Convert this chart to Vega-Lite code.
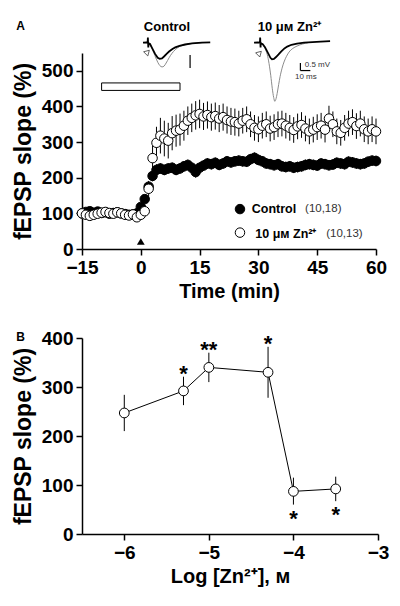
{
  "$schema": "https://vega.github.io/schema/vega-lite/v6.json",
  "padding": {"top": 19, "left": 12, "right": 5, "bottom": 5},
  "config": {
    "view": {"stroke": null},
    "font": "Liberation Sans",
    "axis": {
      "grid": false,
      "domainColor": "black", "domainWidth": 1.5,
      "tickColor": "black", "tickWidth": 1.5, "tickSize": 6,
      "labelFont": "Liberation Sans", "labelFontWeight": "bold", "labelFontSize": 19, "labelColor": "black", "labelPadding": 3,
      "labelFlush": false, "labelOverlap": false,
      "titleFont": "Liberation Sans", "titleFontWeight": "bold", "titleFontSize": 20, "titleColor": "black"
    },
    "axisY": {"titleFontSize": 23},
    "title": {"font": "Liberation Sans", "fontWeight": "bold", "fontSize": 12, "color": "black", "anchor": "start", "frame": "bounds", "offset": 0}
  },
  "datasets": {
    "tc": [
      {"t":-15,"s":"Control","v":100,"e":8},{"t":-14,"s":"Control","v":104,"e":8},{"t":-13,"s":"Control","v":106,"e":8},{"t":-12,"s":"Control","v":102,"e":8},{"t":-11,"s":"Control","v":105,"e":9},{"t":-10,"s":"Control","v":101,"e":8},{"t":-9,"s":"Control","v":103,"e":8},{"t":-8,"s":"Control","v":99,"e":8},{"t":-7,"s":"Control","v":101,"e":8},{"t":-6,"s":"Control","v":103,"e":8},{"t":-5,"s":"Control","v":100,"e":8},{"t":-4,"s":"Control","v":98,"e":8},{"t":-3,"s":"Control","v":96,"e":8},{"t":-2,"s":"Control","v":97,"e":8},{"t":-1,"s":"Control","v":100,"e":9},
      {"t":0,"s":"Control","v":118,"e":10},{"t":1,"s":"Control","v":140,"e":12},{"t":2,"s":"Control","v":175,"e":14},{"t":3,"s":"Control","v":205,"e":15},{"t":4,"s":"Control","v":222,"e":16},{"t":5,"s":"Control","v":226,"e":15},{"t":6,"s":"Control","v":222,"e":15},{"t":7,"s":"Control","v":226,"e":15},{"t":8,"s":"Control","v":228,"e":15},{"t":9,"s":"Control","v":222,"e":15},{"t":10,"s":"Control","v":226,"e":15},
      {"t":11,"s":"Control","v":232,"e":15},{"t":12,"s":"Control","v":236,"e":15},{"t":13,"s":"Control","v":228,"e":15},{"t":14,"s":"Control","v":216,"e":16},{"t":15,"s":"Control","v":228,"e":15},{"t":16,"s":"Control","v":234,"e":15},{"t":17,"s":"Control","v":240,"e":15},{"t":18,"s":"Control","v":238,"e":15},{"t":19,"s":"Control","v":242,"e":15},{"t":20,"s":"Control","v":236,"e":15},
      {"t":21,"s":"Control","v":240,"e":15},{"t":22,"s":"Control","v":246,"e":15},{"t":23,"s":"Control","v":243,"e":15},{"t":24,"s":"Control","v":246,"e":15},{"t":25,"s":"Control","v":248,"e":15},{"t":26,"s":"Control","v":246,"e":15},{"t":27,"s":"Control","v":245,"e":15},{"t":28,"s":"Control","v":252,"e":15},{"t":29,"s":"Control","v":256,"e":15},{"t":30,"s":"Control","v":250,"e":15},
      {"t":31,"s":"Control","v":246,"e":15},{"t":32,"s":"Control","v":240,"e":15},{"t":33,"s":"Control","v":238,"e":15},{"t":34,"s":"Control","v":235,"e":15},{"t":35,"s":"Control","v":238,"e":15},{"t":36,"s":"Control","v":232,"e":15},{"t":37,"s":"Control","v":230,"e":15},{"t":38,"s":"Control","v":232,"e":15},{"t":39,"s":"Control","v":228,"e":15},{"t":40,"s":"Control","v":230,"e":15},
      {"t":41,"s":"Control","v":232,"e":15},{"t":42,"s":"Control","v":236,"e":15},{"t":43,"s":"Control","v":238,"e":15},{"t":44,"s":"Control","v":236,"e":15},{"t":45,"s":"Control","v":234,"e":15},{"t":46,"s":"Control","v":240,"e":15},{"t":47,"s":"Control","v":238,"e":15},{"t":48,"s":"Control","v":235,"e":15},{"t":49,"s":"Control","v":237,"e":15},{"t":50,"s":"Control","v":242,"e":15},
      {"t":51,"s":"Control","v":240,"e":15},{"t":52,"s":"Control","v":238,"e":15},{"t":53,"s":"Control","v":245,"e":15},{"t":54,"s":"Control","v":243,"e":15},{"t":55,"s":"Control","v":240,"e":15},{"t":56,"s":"Control","v":238,"e":15},{"t":57,"s":"Control","v":240,"e":15},{"t":58,"s":"Control","v":245,"e":15},{"t":59,"s":"Control","v":248,"e":15},{"t":60,"s":"Control","v":247,"e":15},
      {"t":-15,"s":"Zn","v":100,"e":6},{"t":-14,"s":"Zn","v":96,"e":6},{"t":-13,"s":"Zn","v":93,"e":6},{"t":-12,"s":"Zn","v":96,"e":6},{"t":-11,"s":"Zn","v":99,"e":6},{"t":-10,"s":"Zn","v":102,"e":6},{"t":-9,"s":"Zn","v":104,"e":6},{"t":-8,"s":"Zn","v":101,"e":6},{"t":-7,"s":"Zn","v":99,"e":6},{"t":-6,"s":"Zn","v":103,"e":6},{"t":-5,"s":"Zn","v":100,"e":6},{"t":-4,"s":"Zn","v":96,"e":6},{"t":-3,"s":"Zn","v":94,"e":6},{"t":-2,"s":"Zn","v":97,"e":7},{"t":-1,"s":"Zn","v":89,"e":8},
      {"t":0,"s":"Zn","v":96,"e":10},{"t":1,"s":"Zn","v":106,"e":12},{"t":2,"s":"Zn","v":169,"e":22},{"t":3,"s":"Zn","v":255,"e":35},{"t":4,"s":"Zn","v":298,"e":45},{"t":5,"s":"Zn","v":318,"e":50},{"t":6,"s":"Zn","v":310,"e":50},{"t":7,"s":"Zn","v":304,"e":50},{"t":8,"s":"Zn","v":325,"e":48},{"t":9,"s":"Zn","v":332,"e":45},{"t":10,"s":"Zn","v":335,"e":45},
      {"t":11,"s":"Zn","v":346,"e":42},{"t":12,"s":"Zn","v":360,"e":40},{"t":13,"s":"Zn","v":368,"e":40},{"t":14,"s":"Zn","v":375,"e":40},{"t":15,"s":"Zn","v":379,"e":40},{"t":16,"s":"Zn","v":372,"e":38},{"t":17,"s":"Zn","v":376,"e":38},{"t":18,"s":"Zn","v":370,"e":38},{"t":19,"s":"Zn","v":373,"e":38},{"t":20,"s":"Zn","v":366,"e":38},
      {"t":21,"s":"Zn","v":370,"e":38},{"t":22,"s":"Zn","v":362,"e":38},{"t":23,"s":"Zn","v":358,"e":38},{"t":24,"s":"Zn","v":356,"e":38},{"t":25,"s":"Zn","v":352,"e":36},{"t":26,"s":"Zn","v":360,"e":36},{"t":27,"s":"Zn","v":364,"e":36},{"t":28,"s":"Zn","v":350,"e":36},{"t":29,"s":"Zn","v":340,"e":36},{"t":30,"s":"Zn","v":336,"e":36},
      {"t":31,"s":"Zn","v":346,"e":36},{"t":32,"s":"Zn","v":350,"e":36},{"t":33,"s":"Zn","v":338,"e":36},{"t":34,"s":"Zn","v":342,"e":36},{"t":35,"s":"Zn","v":350,"e":36},{"t":36,"s":"Zn","v":352,"e":36},{"t":37,"s":"Zn","v":346,"e":36},{"t":38,"s":"Zn","v":340,"e":36},{"t":39,"s":"Zn","v":334,"e":36},{"t":40,"s":"Zn","v":344,"e":36},
      {"t":41,"s":"Zn","v":348,"e":36},{"t":42,"s":"Zn","v":338,"e":36},{"t":43,"s":"Zn","v":330,"e":36},{"t":44,"s":"Zn","v":335,"e":36},{"t":45,"s":"Zn","v":342,"e":36},{"t":46,"s":"Zn","v":346,"e":36},{"t":47,"s":"Zn","v":335,"e":36},{"t":48,"s":"Zn","v":366,"e":36},{"t":49,"s":"Zn","v":350,"e":36},{"t":50,"s":"Zn","v":330,"e":36},
      {"t":51,"s":"Zn","v":326,"e":36},{"t":52,"s":"Zn","v":340,"e":36},{"t":53,"s":"Zn","v":352,"e":36},{"t":54,"s":"Zn","v":356,"e":36},{"t":55,"s":"Zn","v":345,"e":36},{"t":56,"s":"Zn","v":352,"e":36},{"t":57,"s":"Zn","v":336,"e":36},{"t":58,"s":"Zn","v":330,"e":36},{"t":59,"s":"Zn","v":336,"e":36},{"t":60,"s":"Zn","v":330,"e":36}
    ],
    "bar": [{"t":-10,"t2":10,"v":445,"v2":466}],
    "arrow": [{"t":0,"v":21}],
    "legsym": [{"t":25.3,"v":112,"s":"Control"},{"t":25.3,"v":46,"s":"Zn"}],
    "legtext": [
      {"t":28.3,"v":112,"label":"Control","kind":"name"},
      {"t":41.9,"v":112,"label":"(10,18)","kind":"n"},
      {"t":29.2,"v":42,"label":"10 μᴍ Zn²⁺","kind":"name"},
      {"t":47.3,"v":42,"label":"(10,13)","kind":"n"}
    ],
    "traces": [
      {"rec":"Control","cond":"pre","ms":0,"mV":0},{"rec":"Control","cond":"pre","ms":2.5,"mV":0.01},{"rec":"Control","cond":"pre","ms":3.3,"mV":0},{"rec":"Control","cond":"pre","ms":3.45,"mV":0.2},{"rec":"Control","cond":"pre","ms":3.75,"mV":-0.18},{"rec":"Control","cond":"pre","ms":3.9,"mV":-0.02},{"rec":"Control","cond":"pre","ms":5,"mV":-0.05},{"rec":"Control","cond":"pre","ms":6.4,"mV":-0.2},{"rec":"Control","cond":"pre","ms":8.6,"mV":-0.43},{"rec":"Control","cond":"pre","ms":10.5,"mV":-0.58},{"rec":"Control","cond":"pre","ms":11.9,"mV":-0.62},{"rec":"Control","cond":"pre","ms":13.5,"mV":-0.6},{"rec":"Control","cond":"pre","ms":15,"mV":-0.53},{"rec":"Control","cond":"pre","ms":17,"mV":-0.42},{"rec":"Control","cond":"pre","ms":18.6,"mV":-0.34},{"rec":"Control","cond":"pre","ms":21,"mV":-0.24},{"rec":"Control","cond":"pre","ms":23,"mV":-0.18},{"rec":"Control","cond":"pre","ms":26,"mV":-0.12},{"rec":"Control","cond":"pre","ms":30,"mV":-0.07},{"rec":"Control","cond":"pre","ms":35,"mV":-0.03},{"rec":"Control","cond":"pre","ms":42,"mV":0},{"rec":"Control","cond":"pre","ms":48,"mV":0.01},
      {"rec":"Control","cond":"post","ms":0,"mV":0},{"rec":"Control","cond":"post","ms":3.3,"mV":0},{"rec":"Control","cond":"post","ms":5,"mV":-0.06},{"rec":"Control","cond":"post","ms":6.4,"mV":-0.22},{"rec":"Control","cond":"post","ms":8.5,"mV":-0.5},{"rec":"Control","cond":"post","ms":10.5,"mV":-0.75},{"rec":"Control","cond":"post","ms":12,"mV":-0.88},{"rec":"Control","cond":"post","ms":13.6,"mV":-0.93},{"rec":"Control","cond":"post","ms":15,"mV":-0.9},{"rec":"Control","cond":"post","ms":16.5,"mV":-0.78},{"rec":"Control","cond":"post","ms":18.6,"mV":-0.58},{"rec":"Control","cond":"post","ms":20.5,"mV":-0.42},{"rec":"Control","cond":"post","ms":23,"mV":-0.27},{"rec":"Control","cond":"post","ms":26,"mV":-0.15},{"rec":"Control","cond":"post","ms":30,"mV":-0.08},{"rec":"Control","cond":"post","ms":35,"mV":-0.03},{"rec":"Control","cond":"post","ms":42,"mV":0},
      {"rec":"Zn","cond":"pre","ms":79.3,"mV":0},{"rec":"Zn","cond":"pre","ms":82,"mV":0.01},{"rec":"Zn","cond":"pre","ms":83.5,"mV":0},{"rec":"Zn","cond":"pre","ms":83.65,"mV":0.2},{"rec":"Zn","cond":"pre","ms":83.95,"mV":-0.18},{"rec":"Zn","cond":"pre","ms":84.1,"mV":-0.02},{"rec":"Zn","cond":"pre","ms":85.5,"mV":-0.06},{"rec":"Zn","cond":"pre","ms":87.1,"mV":-0.17},{"rec":"Zn","cond":"pre","ms":89.3,"mV":-0.4},{"rec":"Zn","cond":"pre","ms":91,"mV":-0.58},{"rec":"Zn","cond":"pre","ms":92.1,"mV":-0.64},{"rec":"Zn","cond":"pre","ms":93.5,"mV":-0.62},{"rec":"Zn","cond":"pre","ms":95,"mV":-0.55},{"rec":"Zn","cond":"pre","ms":96.8,"mV":-0.45},{"rec":"Zn","cond":"pre","ms":98.6,"mV":-0.34},{"rec":"Zn","cond":"pre","ms":101,"mV":-0.22},{"rec":"Zn","cond":"pre","ms":103,"mV":-0.15},{"rec":"Zn","cond":"pre","ms":106,"mV":-0.08},{"rec":"Zn","cond":"pre","ms":110,"mV":-0.04},{"rec":"Zn","cond":"pre","ms":115,"mV":0},{"rec":"Zn","cond":"pre","ms":121,"mV":0.02},{"rec":"Zn","cond":"pre","ms":127,"mV":0.04},{"rec":"Zn","cond":"pre","ms":133.6,"mV":0.06},
      {"rec":"Zn","cond":"post","ms":79.3,"mV":0},{"rec":"Zn","cond":"post","ms":83.5,"mV":0},{"rec":"Zn","cond":"post","ms":85.5,"mV":-0.06},{"rec":"Zn","cond":"post","ms":87.1,"mV":-0.22},{"rec":"Zn","cond":"post","ms":88.7,"mV":-0.45},{"rec":"Zn","cond":"post","ms":90,"mV":-0.8},{"rec":"Zn","cond":"post","ms":91.2,"mV":-1.25},{"rec":"Zn","cond":"post","ms":92.3,"mV":-1.75},{"rec":"Zn","cond":"post","ms":93.3,"mV":-2.1},{"rec":"Zn","cond":"post","ms":94.1,"mV":-2.25},{"rec":"Zn","cond":"post","ms":95,"mV":-2.15},{"rec":"Zn","cond":"post","ms":95.8,"mV":-1.95},{"rec":"Zn","cond":"post","ms":96.9,"mV":-1.6},{"rec":"Zn","cond":"post","ms":97.9,"mV":-1.3},{"rec":"Zn","cond":"post","ms":99.3,"mV":-0.98},{"rec":"Zn","cond":"post","ms":100.7,"mV":-0.74},{"rec":"Zn","cond":"post","ms":102.5,"mV":-0.52},{"rec":"Zn","cond":"post","ms":104.3,"mV":-0.36},{"rec":"Zn","cond":"post","ms":107,"mV":-0.22},{"rec":"Zn","cond":"post","ms":110,"mV":-0.13},{"rec":"Zn","cond":"post","ms":114,"mV":-0.05},{"rec":"Zn","cond":"post","ms":118,"mV":0}
    ],
    "scalebars": [
      {"ms":33.6,"ms2":33.6,"mV":-0.47,"mV2":-0.97},
      {"ms":112.4,"ms2":112.4,"mV":-0.78,"mV2":-1.07},
      {"ms":112.4,"ms2":119.5,"mV":-1.07,"mV2":-1.07}
    ],
    "scalelabels": [
      {"ms":115.5,"mV":-0.85,"label":"0.5 mV"},
      {"ms":108.5,"mV":-1.33,"label":"10 ms"}
    ],
    "tracetitles": [
      {"ms":17.1,"mV":0.62,"label":"Control"},
      {"ms":104.6,"mV":0.62,"label":"10 μᴍ Zn²⁺"}
    ],
    "fv": [{"ms":3.2,"mV":-0.36},{"ms":83.2,"mV":-0.4}],
    "dose": [
      {"logc":-6,"v":247,"lo":210,"hi":284,"sig":""},
      {"logc":-5.3,"v":292,"lo":263,"hi":321,"sig":"*"},
      {"logc":-5,"v":340,"lo":310,"hi":370,"sig":"**"},
      {"logc":-4.3,"v":330,"lo":278,"hi":382,"sig":"*"},
      {"logc":-4,"v":87,"lo":60,"hi":115,"sig":"*"},
      {"logc":-3.5,"v":92,"lo":67,"hi":117,"sig":"*"}
    ]
  },
  "spacing": 28,
  "vconcat": [
    {
      "width": 294,
      "height": 196,
      "title": {"text": "A", "dy": 16, "dx": 4},
      "resolve": {"scale": {"x": "independent", "y": "independent"}},
      "layer": [
        {
          "encoding": {
            "x": {"field": "t", "type": "quantitative", "title": "Time (min)", "scale": {"domain": [-15, 60], "nice": false, "zero": false}, "axis": {"values": [-15, 0, 15, 30, 45, 60], "title": "Time (min)"}},
            "y": {"field": "v", "type": "quantitative", "title": "fEPSP slope (%)", "scale": {"domain": [0, 550], "nice": false}, "axis": {"values": [0, 100, 200, 300, 400, 500], "title": "fEPSP slope (%)", "titlePadding": 6}}
          },
          "layer": [
            {
              "data": {"name": "bar"},
              "mark": {"type": "rect", "fill": "white", "stroke": "black", "strokeWidth": 1},
              "encoding": {"x2": {"field": "t2"}, "y2": {"field": "v2"}}
            },
            {
              "data": {"name": "arrow"},
              "mark": {"type": "point", "shape": "triangle-up", "filled": true, "color": "black", "size": 60, "opacity": 1},
              "encoding": {}
            },
            {
              "data": {"name": "tc"},
              "mark": {"type": "errorbar", "color": "black", "thickness": 1},
              "encoding": {"yError": {"field": "e"}, "detail": {"field": "s"}}
            },
            {
              "data": {"name": "tc"},
              "mark": {"type": "circle", "stroke": "black", "strokeWidth": 1, "size": 90, "opacity": 1},
              "encoding": {"fill": {"field": "s", "type": "nominal", "scale": {"domain": ["Control", "Zn"], "range": ["black", "white"]}, "legend": null}}
            },
            {
              "data": {"name": "legsym"},
              "mark": {"type": "circle", "stroke": "black", "strokeWidth": 1, "size": 90, "opacity": 1},
              "encoding": {"fill": {"field": "s", "type": "nominal", "legend": null}}
            },
            {
              "data": {"name": "legtext"},
              "transform": [{"filter": "datum.kind == 'name'"}],
              "mark": {"type": "text", "align": "left", "baseline": "middle", "fontSize": 12.5, "fontWeight": "bold", "color": "black"},
              "encoding": {"text": {"field": "label"}}
            },
            {
              "data": {"name": "legtext"},
              "transform": [{"filter": "datum.kind == 'n'"}],
              "mark": {"type": "text", "align": "left", "baseline": "middle", "fontSize": 11.5, "fontWeight": "normal", "color": "#333333"},
              "encoding": {"text": {"field": "label"}}
            }
          ]
        },
        {
          "encoding": {
            "x": {"field": "ms", "type": "quantitative", "scale": {"domain": [-43.6, 166.4], "nice": false, "zero": false}, "axis": null},
            "y": {"field": "mV", "type": "quantitative", "scale": {"domain": [-7.92, -0.396], "nice": false, "zero": false}, "axis": null}
          },
          "layer": [
            {
              "data": {"name": "traces"},
              "transform": [{"filter": "datum.cond == 'post'"}],
              "mark": {"type": "line", "color": "#8c8c8c", "strokeWidth": 1, "interpolate": "monotone"},
              "encoding": {"detail": {"field": "rec"}}
            },
            {
              "data": {"name": "traces"},
              "transform": [{"filter": "datum.cond == 'pre'"}],
              "mark": {"type": "line", "color": "black", "strokeWidth": 1.8, "interpolate": "linear"},
              "encoding": {"detail": {"field": "rec"}}
            },
            {
              "data": {"name": "scalebars"},
              "mark": {"type": "rule", "color": "black", "strokeWidth": 1.2},
              "encoding": {"x2": {"field": "ms2"}, "y2": {"field": "mV2"}}
            },
            {
              "data": {"name": "scalelabels"},
              "mark": {"type": "text", "align": "left", "baseline": "middle", "fontSize": 8, "color": "#333333"},
              "encoding": {"text": {"field": "label"}}
            },
            {
              "data": {"name": "tracetitles"},
              "mark": {"type": "text", "align": "center", "baseline": "middle", "fontSize": 13, "fontWeight": "bold", "color": "black"},
              "encoding": {"text": {"field": "label"}}
            },
            {
              "data": {"name": "fv"},
              "mark": {"type": "point", "shape": "triangle-up", "angle": 45, "filled": false, "color": "#444444", "strokeWidth": 0.8, "size": 35, "opacity": 1},
              "encoding": {}
            }
          ]
        }
      ]
    },
    {
      "width": 296,
      "height": 196,
      "title": {"text": "B", "dy": 19, "dx": 4},
      "data": {"name": "dose"},
      "encoding": {
        "x": {"field": "logc", "type": "quantitative", "title": "Log [Zn²⁺], ᴍ", "scale": {"domain": [-6.5, -3], "nice": false, "zero": false}, "axis": {"values": [-6, -5, -4, -3], "title": "Log [Zn²⁺], ᴍ"}},
        "y": {"field": "v", "type": "quantitative", "title": "fEPSP slope (%)", "scale": {"domain": [0, 400], "nice": false}, "axis": {"values": [0, 100, 200, 300, 400], "title": "fEPSP slope (%)", "titlePadding": 6}}
      },
      "layer": [
        {
          "mark": {"type": "line", "color": "black", "strokeWidth": 1},
          "encoding": {}
        },
        {
          "mark": {"type": "errorbar", "color": "black", "thickness": 1},
          "encoding": {"y": {"field": "lo", "type": "quantitative", "title": "fEPSP slope (%)"}, "y2": {"field": "hi"}}
        },
        {
          "mark": {"type": "circle", "fill": "white", "stroke": "black", "strokeWidth": 1, "size": 95, "opacity": 1},
          "encoding": {}
        },
        {
          "transform": [{"filter": "datum.sig != '' && datum.v > 150"}],
          "mark": {"type": "text", "align": "center", "baseline": "alphabetic", "fontSize": 22, "fontWeight": "bold", "color": "black", "dy": 4},
          "encoding": {"y": {"field": "hi", "type": "quantitative", "title": "fEPSP slope (%)"}, "text": {"field": "sig"}}
        },
        {
          "transform": [{"filter": "datum.sig != '' && datum.v < 150"}],
          "mark": {"type": "text", "align": "center", "baseline": "alphabetic", "fontSize": 22, "fontWeight": "bold", "color": "black", "dy": 21},
          "encoding": {"y": {"field": "lo", "type": "quantitative", "title": "fEPSP slope (%)"}, "text": {"field": "sig"}}
        }
      ]
    }
  ]
}
